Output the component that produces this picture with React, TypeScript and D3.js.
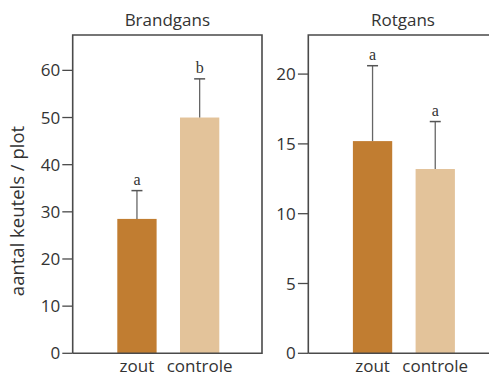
import React from "react";
import * as d3 from "d3";

const categories = ["zout", "controle"];
const brandgansMeans = [28.5, 50.0];
const brandgansErrors = [6.0, 8.2];
const brandgansLetters = ["a", "b"];
const brandgansTicks = [0, 10, 20, 30, 40, 50, 60];
const rotgansMeans = [15.2, 13.2];
const rotgansErrors = [5.4, 3.4];
const rotgansLetters = ["a", "a"];
const rotgansTicks = [0, 5, 10, 15, 20];

const colors = ["#c17d31", "#e3c39a"];
const W = 489;
const H = 377;
const top = 35;
const bottom = 353.3;
const panelW = 189.3;
const sans = "'Open Sans', sans-serif";
const serif = "'Liberation Serif', 'DejaVu Serif', serif";
const frame = "#4a4a4a";
const fs = 17;

type PanelProps = {
  x0: number;
  title: string;
  means: number[];
  errors: number[];
  letters: string[];
  ticks: number[];
  yMax: number;
  rightEdge: boolean;
};

function Panel({ x0, title, means, errors, letters, ticks, yMax, rightEdge }: PanelProps) {
  const y = d3.scaleLinear().domain([0, yMax]).range([bottom, top]);
  const x = d3
    .scaleBand<string>()
    .domain(categories)
    .range([x0 + 44.6, x0 + 146.6])
    .paddingInner(0.373)
    .paddingOuter(0);
  const bw = x.bandwidth();
  const x1 = x0 + panelW;
  return (
    <g>
      <text x={x0 + panelW / 2} y={26} textAnchor="middle" fontFamily={sans} fontSize={fs} fill="#333">
        {title}
      </text>
      {categories.map((c, i) => {
        const cx = (x(c) as number) + bw / 2;
        const yTop = y(means[i]);
        const yErr = y(means[i] + errors[i]);
        return (
          <g key={c}>
            <rect x={x(c)} y={yTop} width={bw} height={bottom - yTop} fill={colors[i]} />
            <line x1={cx} x2={cx} y1={yTop} y2={yErr} stroke="#666" strokeWidth={1.3} />
            <line x1={cx - 5.5} x2={cx + 5.5} y1={yErr} y2={yErr} stroke="#555" strokeWidth={1.5} />
            <text x={cx} y={yErr - 6} textAnchor="middle" fontFamily={serif} fontSize={16} fill="#333">
              {letters[i]}
            </text>
            <text x={cx} y={371.5} textAnchor="middle" fontFamily={sans} fontSize={fs} fill="#333">
              {c}
            </text>
          </g>
        );
      })}
      {ticks.map((t) => (
        <g key={t}>
          <line x1={x0 - 10.4} x2={x0} y1={y(t)} y2={y(t)} stroke={frame} strokeWidth={1.3} />
          <text
            x={x0 - 12.5}
            y={y(t)}
            dy="0.36em"
            textAnchor="end"
            fontFamily={sans}
            fontSize={fs}
            fill="#333"
          >
            {t}
          </text>
        </g>
      ))}
      <path
        d={
          rightEdge
            ? `M${x0},${bottom}V${top}H${x1}V${bottom}H${x0}`
            : `M${x0},${bottom}V${top}H${x1}M${x0},${bottom}H${x1}`
        }
        fill="none"
        stroke={frame}
        strokeWidth={1.6}
      />
    </g>
  );
}

export default function App() {
  return (
    <svg width={W} height={H} style={{ position: "absolute", left: 0, top: 0, background: "#fff" }}>
      <rect width={W} height={H} fill="#fff" />
      <text
        transform={`translate(24,211) rotate(-90)`}
        textAnchor="middle"
        fontFamily={sans}
        fontSize={18.5}
        fill="#333"
      >
        aantal keutels / plot
      </text>
      <Panel
        x0={72.7}
        title="Brandgans"
        means={brandgansMeans}
        errors={brandgansErrors}
        letters={brandgansLetters}
        ticks={brandgansTicks}
        yMax={67.5}
        rightEdge={true}
      />
      <Panel
        x0={308.3}
        title="Rotgans"
        means={rotgansMeans}
        errors={rotgansErrors}
        letters={rotgansLetters}
        ticks={rotgansTicks}
        yMax={22.8}
        rightEdge={false}
      />
    </svg>
  );
}
